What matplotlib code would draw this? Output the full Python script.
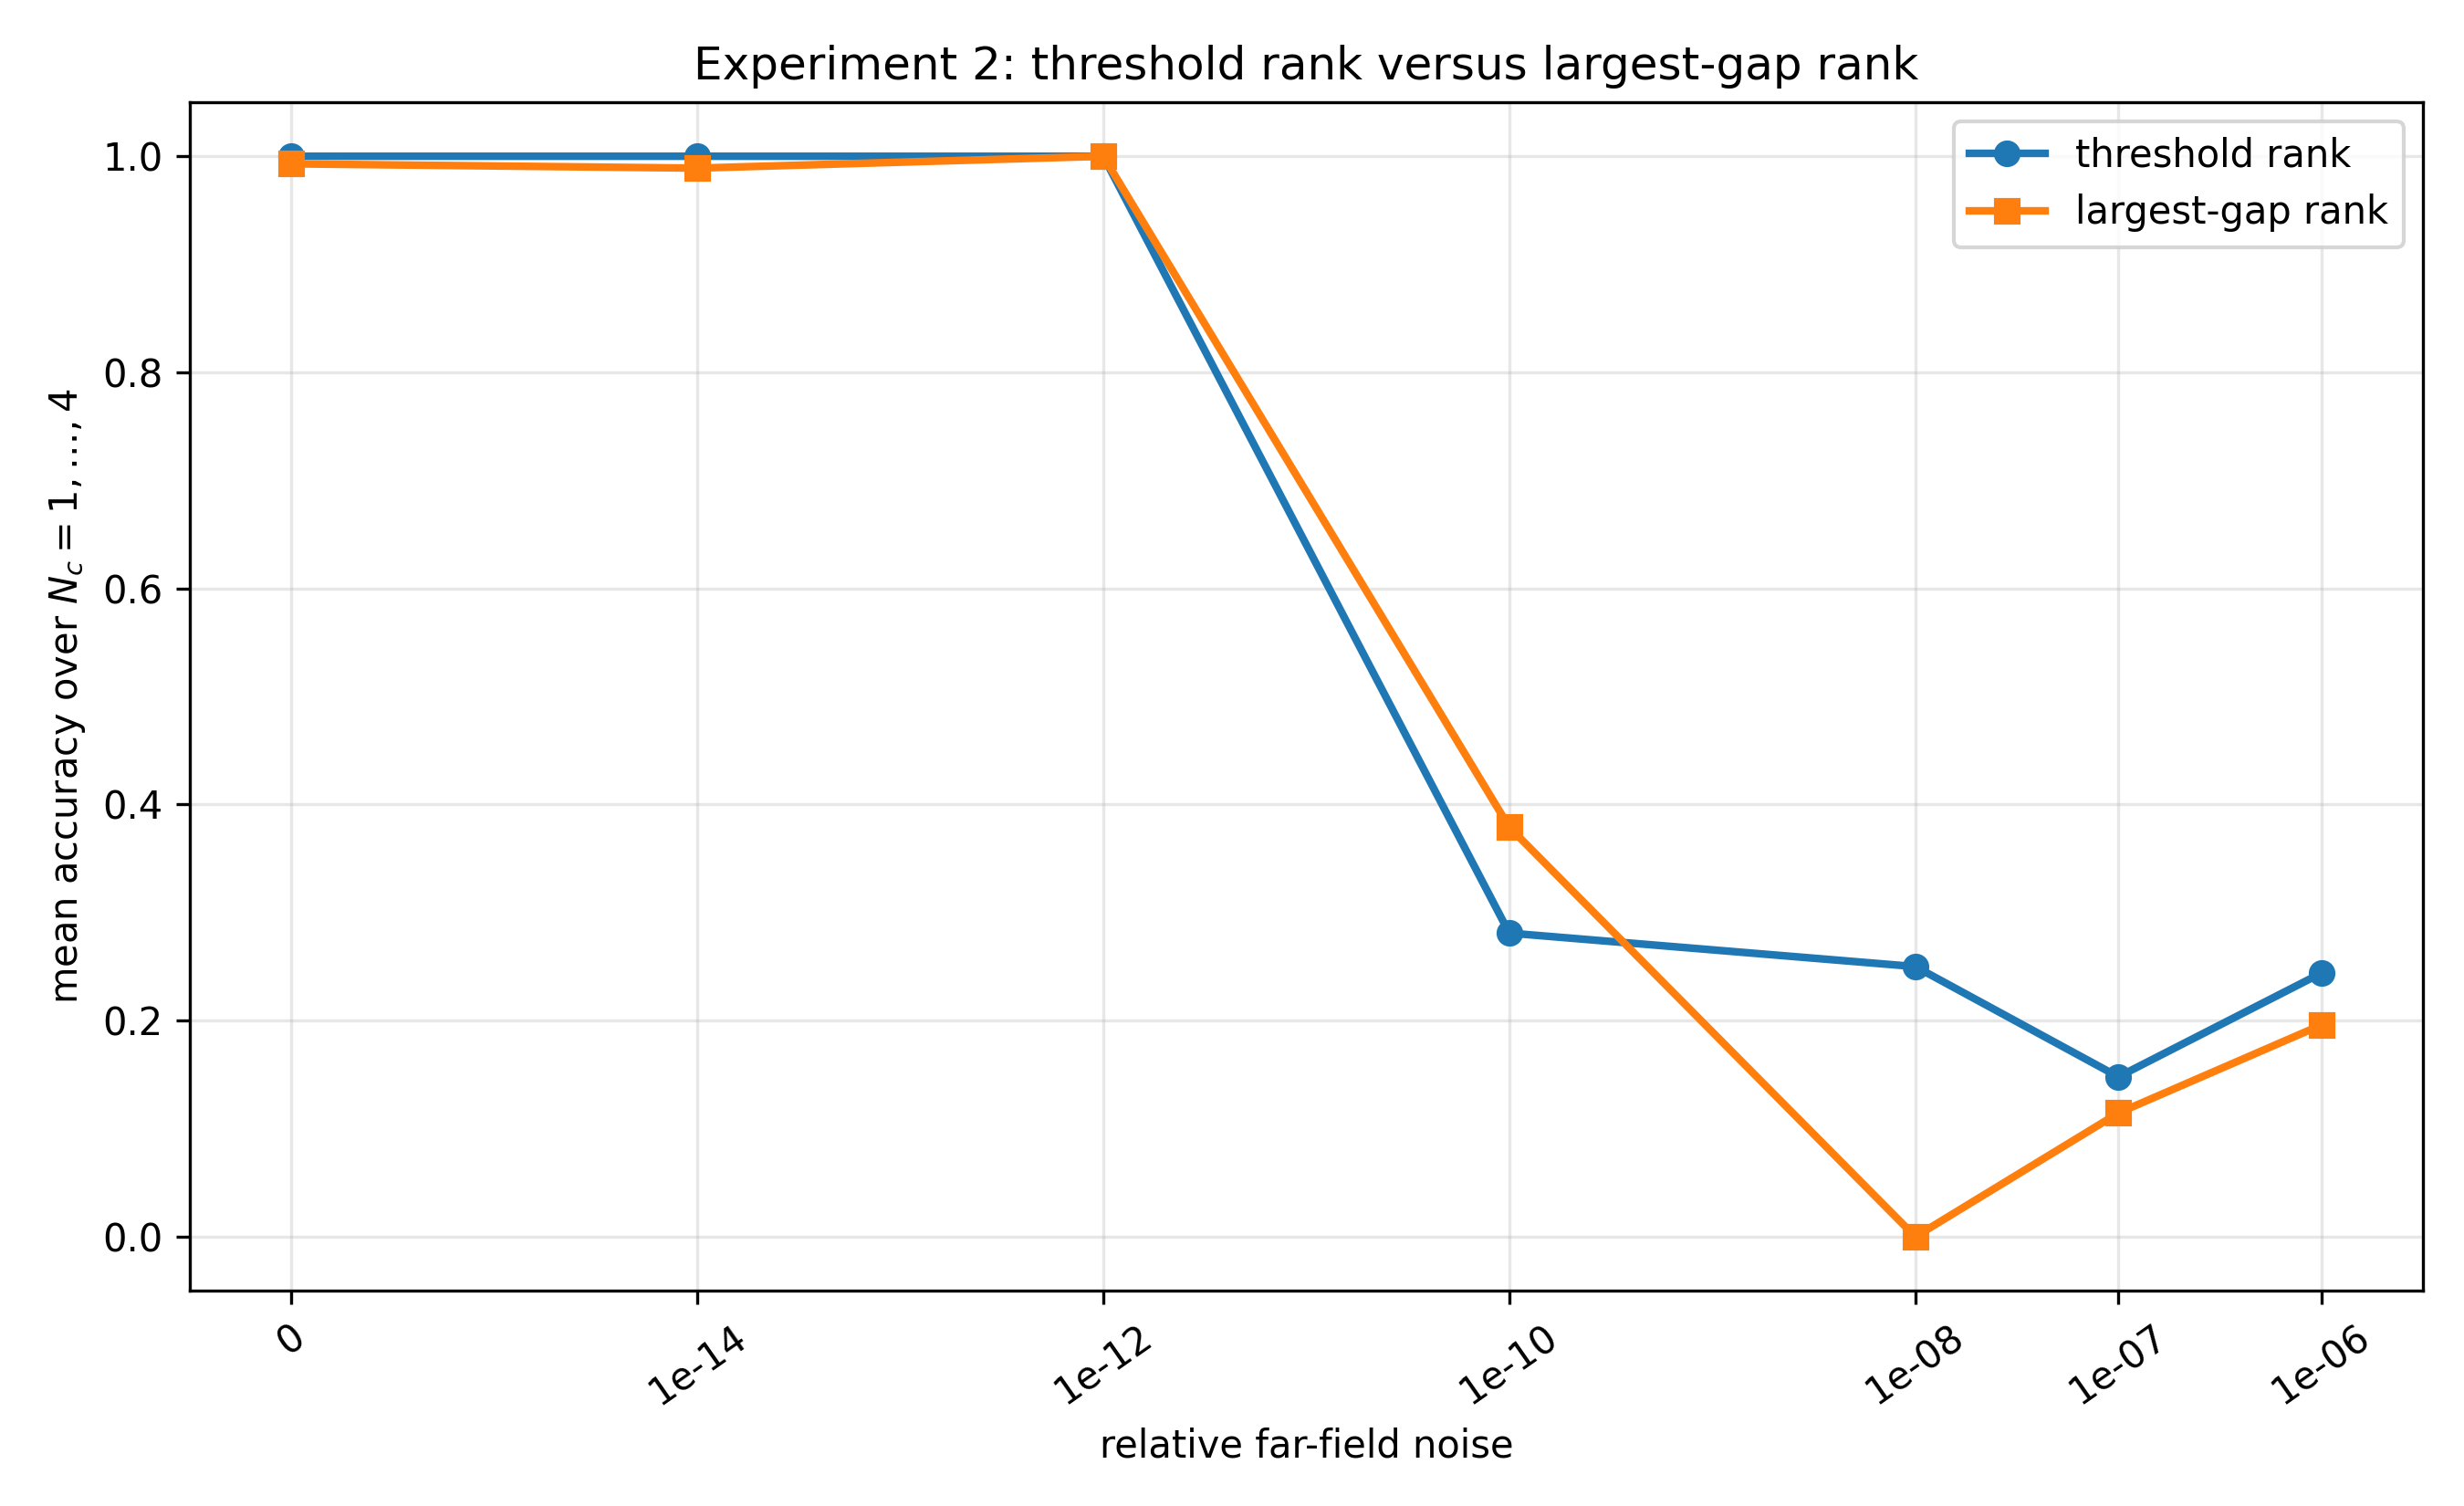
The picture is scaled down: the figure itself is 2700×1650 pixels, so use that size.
import numpy as np
import matplotlib
matplotlib.use("Agg")
import matplotlib.pyplot as plt

noise_levels = [0, 1e-14, 1e-12, 1e-10, 1e-08, 1e-07, 1e-06]
tick_labels = ["0", "1e-14", "1e-12", "1e-10", "1e-08", "1e-07", "1e-06"]
threshold_acc = [1.0, 1.0, 1.0, 0.281, 0.250, 0.148, 0.244]
gap_acc = [0.993, 0.989, 1.0, 0.379, 0.0, 0.1145, 0.196]

# place noise on a log axis, with zero put two decades below the smallest nonzero value
nz = [v for v in noise_levels if v > 0]
zero_pos = np.log10(min(nz)) - 2
x = [np.log10(v) if v > 0 else zero_pos for v in noise_levels]

fig, ax = plt.subplots(figsize=(9, 5.5))
ax.plot(x, threshold_acc, marker='o', linewidth=2, label='threshold rank')
ax.plot(x, gap_acc, marker='s', linewidth=2, label='largest-gap rank')
ax.set_xticks(x)
ax.set_xticklabels(tick_labels, rotation=35)
ax.set_xlabel('relative far-field noise')
ax.set_ylabel(r'mean accuracy over $N_c = 1,\ldots,4$')
ax.set_title('Experiment 2: threshold rank versus largest-gap rank')
ax.grid(True, alpha=0.3)
ax.legend(loc='upper right')
fig.tight_layout()
fig.savefig('out.png', dpi=300)
